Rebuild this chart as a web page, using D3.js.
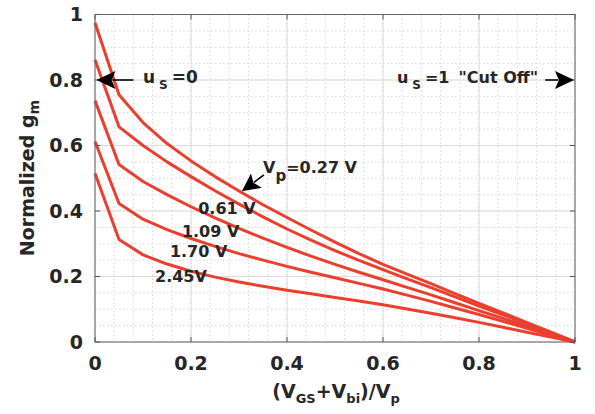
<!DOCTYPE html>
<html>
<head>
<meta charset="utf-8">
<script src="https://cdn.jsdelivr.net/npm/d3@7"></script>
<style>
  body { margin: 0; background: #fff; }
  text { font-family: "DejaVu Sans", sans-serif; font-weight: bold; fill: #262626; }
</style>
</head>
<body>
<svg id="chart" width="595" height="414"></svg>
<script>
// normalized (VGS+Vbi)/Vp
var xValues = [0, 0.05, 0.1, 0.15, 0.2, 0.25, 0.3, 0.35, 0.4, 0.45, 0.5,
  0.55, 0.6, 0.65, 0.7, 0.75, 0.8, 0.85, 0.9, 0.95, 1];

// normalized gm, one array per pinch-off voltage
var gmVp027 = [0.975, 0.755, 0.670, 0.606, 0.553, 0.505, 0.461, 0.419, 0.380, 0.342, 0.305,
  0.270, 0.237, 0.207, 0.178, 0.148, 0.118, 0.089, 0.059, 0.030, 0];
var gmVp061 = [0.862, 0.657, 0.600, 0.550, 0.505, 0.462, 0.421, 0.382, 0.345, 0.311, 0.279,
  0.249, 0.221, 0.193, 0.166, 0.138, 0.110, 0.083, 0.055, 0.028, 0];
var gmVp109 = [0.737, 0.542, 0.490, 0.450, 0.413, 0.379, 0.347, 0.317, 0.289, 0.262, 0.237,
  0.213, 0.190, 0.167, 0.144, 0.120, 0.096, 0.072, 0.048, 0.024, 0];
var gmVp170 = [0.612, 0.423, 0.375, 0.343, 0.316, 0.292, 0.270, 0.250, 0.231, 0.213, 0.196,
  0.179, 0.162, 0.143, 0.124, 0.104, 0.084, 0.063, 0.042, 0.021, 0];
var gmVp245 = [0.515, 0.313, 0.266, 0.238, 0.216, 0.198, 0.183, 0.170, 0.158, 0.147, 0.136,
  0.125, 0.114, 0.101, 0.088, 0.074, 0.060, 0.045, 0.030, 0.015, 0];

var seriesList = [gmVp027, gmVp061, gmVp109, gmVp170, gmVp245];

var xTicks = [0, 0.2, 0.4, 0.6, 0.8, 1];
var yTicks = [0, 0.2, 0.4, 0.6, 0.8, 1];
var xTickLabels = ['0', '0.2', '0.4', '0.6', '0.8', '1'];
var yTickLabels = ['0', '0.2', '0.4', '0.6', '0.8', '1'];

var curveLabels = [
  { text: '0.61 V', x: 0.215, y: 0.391 },
  { text: '1.09 V', x: 0.181, y: 0.321 },
  { text: '1.70 V', x: 0.156, y: 0.260 },
  { text: '2.45V', x: 0.125, y: 0.183 }
];

var svg = d3.select('#chart');
var plotLeft = 95, plotRight = 575, plotTop = 14.5, plotBottom = 342;

var x = d3.scaleLinear().domain([0, 1]).range([plotLeft, plotRight]);
var y = d3.scaleLinear().domain([0, 1]).range([plotBottom, plotTop]);

var grid = svg.append('g').attr('class', 'grid');

// minor grid (dotted)
grid.selectAll('.xminor')
  .data(d3.range(0, 1.0001, 0.04))
  .enter().append('line')
  .attr('x1', d => x(d)).attr('x2', d => x(d))
  .attr('y1', plotTop).attr('y2', plotBottom)
  .attr('stroke', '#d6d6d6').attr('stroke-width', 1)
  .attr('stroke-dasharray', '1.5,2.5');

grid.selectAll('.yminor')
  .data(d3.range(0, 1.0001, 0.05))
  .enter().append('line')
  .attr('y1', d => y(d)).attr('y2', d => y(d))
  .attr('x1', plotLeft).attr('x2', plotRight)
  .attr('stroke', '#d6d6d6').attr('stroke-width', 1)
  .attr('stroke-dasharray', '1.5,2.5');

// major grid
grid.selectAll('.xmajor')
  .data(xTicks)
  .enter().append('line')
  .attr('x1', d => x(d)).attr('x2', d => x(d))
  .attr('y1', plotTop).attr('y2', plotBottom)
  .attr('stroke', '#dcdcdc').attr('stroke-width', 1);

grid.selectAll('.ymajor')
  .data(yTicks)
  .enter().append('line')
  .attr('y1', d => y(d)).attr('y2', d => y(d))
  .attr('x1', plotLeft).attr('x2', plotRight)
  .attr('stroke', '#dcdcdc').attr('stroke-width', 1);

// curves
var line = d3.line()
  .x((d, i) => x(xValues[i]))
  .y(d => y(d));

svg.append('g')
  .selectAll('path')
  .data(seriesList)
  .enter().append('path')
  .attr('d', line)
  .attr('fill', 'none')
  .attr('stroke', '#ea3f2f')
  .attr('stroke-width', 3)
  .attr('stroke-linejoin', 'round');

// box + inward ticks
svg.append('rect')
  .attr('x', plotLeft).attr('y', plotTop)
  .attr('width', plotRight - plotLeft).attr('height', plotBottom - plotTop)
  .attr('fill', 'none').attr('stroke', '#666').attr('stroke-width', 1);

var tickLen = 5;
var ticks = svg.append('g').attr('stroke', '#555').attr('stroke-width', 1);
xTicks.forEach(function (d) {
  ticks.append('line').attr('x1', x(d)).attr('x2', x(d)).attr('y1', plotBottom).attr('y2', plotBottom - tickLen);
  ticks.append('line').attr('x1', x(d)).attr('x2', x(d)).attr('y1', plotTop).attr('y2', plotTop + tickLen);
});
yTicks.forEach(function (d) {
  ticks.append('line').attr('y1', y(d)).attr('y2', y(d)).attr('x1', plotLeft).attr('x2', plotLeft + tickLen);
  ticks.append('line').attr('y1', y(d)).attr('y2', y(d)).attr('x1', plotRight).attr('x2', plotRight - tickLen);
});

// tick labels
svg.append('g').selectAll('text')
  .data(xTicks)
  .enter().append('text')
  .attr('x', d => x(d)).attr('y', plotBottom + 28)
  .attr('text-anchor', 'middle')
  .attr('font-size', 19)
  .text((d, i) => xTickLabels[i]);

svg.append('g').selectAll('text')
  .data(yTicks)
  .enter().append('text')
  .attr('x', plotLeft - 12).attr('y', d => y(d))
  .attr('dy', '0.36em')
  .attr('text-anchor', 'end')
  .attr('font-size', 19)
  .text((d, i) => yTickLabels[i]);

// axis titles
var xt = svg.append('text')
  .attr('x', 336).attr('y', 398)
  .attr('text-anchor', 'middle')
  .attr('font-size', 19);
xt.append('tspan').text('(V');
xt.append('tspan').attr('font-size', 13).attr('dy', 5).text('GS');
xt.append('tspan').attr('dy', -5).text('+V');
xt.append('tspan').attr('font-size', 13).attr('dy', 5).text('bi');
xt.append('tspan').attr('dy', -5).text(')/V');
xt.append('tspan').attr('font-size', 13).attr('dy', 5).text('p');

var yt = svg.append('text')
  .attr('transform', 'translate(34,178) rotate(-90)')
  .attr('text-anchor', 'middle')
  .attr('font-size', 19);
yt.append('tspan').text('Normalized g');
yt.append('tspan').attr('font-size', 14).attr('dy', 5).text('m');

// arrow helper (filled head)
function arrow(x1, y1, x2, y2, len, half) {
  var ang = Math.atan2(y2 - y1, x2 - x1);
  var bx = x2 - len * Math.cos(ang), by = y2 - len * Math.sin(ang);
  svg.append('line')
    .attr('x1', x1).attr('y1', y1).attr('x2', bx + 3 * Math.cos(ang)).attr('y2', by + 3 * Math.sin(ang))
    .attr('stroke', '#000').attr('stroke-width', 1.6);
  var px = -Math.sin(ang) * half, py = Math.cos(ang) * half;
  svg.append('path')
    .attr('d', 'M' + x2 + ',' + y2 + 'L' + (bx + px) + ',' + (by + py) +
      'L' + (bx + len * 0.2 * Math.cos(ang)) + ',' + (by + len * 0.2 * Math.sin(ang)) +
      'L' + (bx - px) + ',' + (by - py) + 'Z')
    .attr('fill', '#000');
}

// u_s = 0 annotation
arrow(x(0.08), y(0.8), x(0.003), y(0.8), 19, 9);
var us0 = svg.append('text').attr('x', x(0.1)).attr('y', y(0.79)).attr('font-size', 17);
us0.append('tspan').text('u');
us0.append('tspan').attr('font-size', 12).attr('dx', 4).attr('dy', 6).text('S');
us0.append('tspan').attr('dx', 4).attr('dy', -6).text('=0');

// u_s = 1 annotation
arrow(x(0.938), y(0.8), x(0.998), y(0.8), 19, 9);
var us1 = svg.append('text').attr('x', x(0.629)).attr('y', y(0.79)).attr('font-size', 16);
us1.append('tspan').text('u');
us1.append('tspan').attr('font-size', 12).attr('dx', 4).attr('dy', 6).text('S');
us1.append('tspan').attr('dx', 4).attr('dy', -6).text('=1');
us1.append('tspan').attr('dx', 9).text('"Cut Off"');

// Vp = 0.27 V annotation
arrow(x(0.352), y(0.51), x(0.306), y(0.46), 18, 9);
var vp = svg.append('text').attr('x', x(0.35)).attr('y', y(0.516)).attr('font-size', 16);
vp.append('tspan').text('V');
vp.append('tspan').attr('font-size', 15).attr('dy', 8).text('p');
vp.append('tspan').attr('dy', -8).text('=0.27 V');

// remaining curve labels
svg.append('g').selectAll('text')
  .data(curveLabels)
  .enter().append('text')
  .attr('x', d => x(d.x)).attr('y', d => y(d.y))
  .attr('font-size', 16)
  .text(d => d.text);
</script>
</body>
</html>
